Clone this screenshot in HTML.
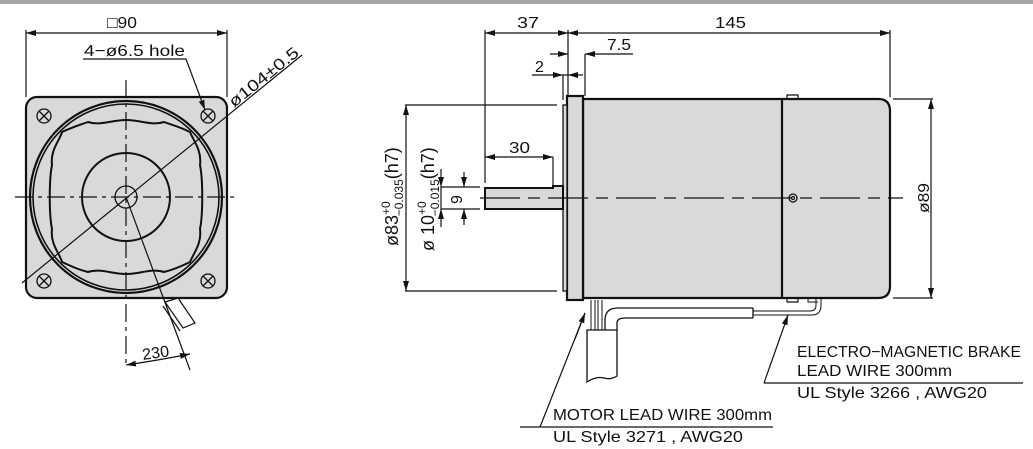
<!DOCTYPE html>
<html><head><meta charset="utf-8"><style>
html,body{margin:0;padding:0;background:#fff;width:1033px;height:449px;overflow:hidden}
svg{display:block}
text{font-family:"Liberation Sans",sans-serif;fill:#111}
</style></head><body>
<svg width="1033" height="449" viewBox="0 0 1033 449" xmlns="http://www.w3.org/2000/svg">
<defs>
<marker id="a" viewBox="0 0 10 6" refX="10" refY="3" markerWidth="10" markerHeight="6" orient="auto-start-reverse" markerUnits="userSpaceOnUse"><path d="M0,0L10,3L0,6z" fill="#111"/></marker>
</defs>
<rect x="0" y="0" width="1033" height="4" fill="#a6a6aa"/>
<g stroke="#111" fill="none" stroke-width="1.2">
<rect x="26" y="97" width="201" height="201" rx="11" fill="#d9d9d9" stroke-width="2.2"/>
<circle cx="126" cy="197" r="96" stroke-width="2.2"/>
<circle cx="126" cy="197" r="93" stroke-width="1.6"/>
<path d="M52,165 C50,150 60,140 62,132 C75,126 80,125 88,122 C100,126 112,120 126,120 C140,120 152,126 164,122 C172,125 178,126 190,132 C193,140 202,150 200,165 C203,180 203,214 200,229 C202,244 193,254 190,262 C178,268 172,270 164,272 C152,268 140,274 126,274 C112,274 100,268 88,272 C80,270 75,268 62,262 C60,254 50,244 52,229 C49,214 49,180 52,165Z" stroke-width="2"/>
<circle cx="126" cy="197" r="44" stroke-width="2"/>
<circle cx="126" cy="197" r="11" stroke-width="1.3"/>
<g stroke-width="1.3">
<circle cx="44" cy="116" r="7"/><path d="M39,111L49,121M49,111L39,121"/>
<circle cx="208" cy="116" r="7"/><path d="M203,111L213,121M213,111L203,121"/>
<circle cx="44" cy="281" r="7"/><path d="M39,276L49,286M49,276L39,286"/>
<circle cx="208" cy="281" r="7"/><path d="M203,276L213,286M213,276L203,286"/>
</g>
<path d="M126,80V365" stroke-dasharray="18,5,4,5"/>
<path d="M15,197H237" stroke-dasharray="18,5,4,5"/>
<path d="M26,30V97M227,30V97"/>
<path d="M26,33H227" marker-start="url(#a)" marker-end="url(#a)"/>
<path d="M83,59H186L205,110" marker-end="url(#a)"/>
<path d="M22,283L302,55" />
<path d="M126,197L190,370"/>
<path d="M165,302L178,298L195,323L183,328Z" fill="#fff"/>
<path d="M163,306L180,331" />
<path d="M126,365Q160,360 190,354" marker-start="url(#a)" marker-end="url(#a)"/>
<path d="M583,99H878Q890,99 890,111V286Q890,298 878,298H583Z" fill="#d9d9d9" stroke-width="2.2"/>
<path d="M782,99V298" stroke-width="2.2"/>
<path d="M787,99V95H798V99M787,298V302H798V298" stroke-width="1.2"/>
<rect x="567" y="96" width="16" height="204" fill="#d9d9d9" stroke-width="2.2"/>
<rect x="563" y="105" width="4" height="186" fill="#d9d9d9" stroke-width="1.3"/>
<path d="M485,188H553V186H563V209H485Z" fill="#d9d9d9" stroke-width="2"/>
<circle cx="793" cy="198" r="4" stroke-width="1.3"/><circle cx="793" cy="198" r="1.5"/>
<path d="M480,198H903" stroke-dasharray="40,8,12,8"/>
<path d="M485,30V183M568,30V96M890,30V97"/>
<path d="M485,33H568" marker-start="url(#a)" marker-end="url(#a)"/>
<path d="M568,33H890" marker-start="url(#a)" marker-end="url(#a)"/>
<path d="M585,54V96M563,75V100"/>
<path d="M550,54H568" marker-end="url(#a)"/><path d="M633,54H585" marker-end="url(#a)"/>
<path d="M532,75H563" marker-end="url(#a)"/><path d="M583,75H568" marker-end="url(#a)"/><path d="M563,75H568"/>
<path d="M405,105H557M405,291H557"/>
<path d="M406,105V291" marker-start="url(#a)" marker-end="url(#a)"/>
<path d="M485,157H553" marker-start="url(#a)" marker-end="url(#a)"/>
<path d="M553,157V186"/>
<path d="M441,187H480M441,209H480"/>
<path d="M441,169V187" marker-end="url(#a)"/><path d="M441,227V209" marker-end="url(#a)"/><path d="M441,187V209"/>
<path d="M464,172V187" marker-end="url(#a)"/><path d="M464,225V209" marker-end="url(#a)"/>
<path d="M893,99H933M893,298H933"/>
<path d="M931,99V298" marker-start="url(#a)" marker-end="url(#a)"/>
<path d="M591,300V330M595,300V330M598,300V330M602,300V330" stroke-width="1"/>
<path d="M587,330H617V376Q611,380 604,378Q596,376 587,382Z" fill="#fff" stroke-width="1.3"/>
<path d="M605,330V320Q605,308 618,308H753M617,330V323Q617,318 625,318H753M753,308V318" stroke-width="1.3"/>
<path d="M753,311H810Q816,311 816,305V299M753,315H812Q821,315 821,305V299" stroke-width="1"/>
<path d="M808,299V302H818" stroke-width="1"/>
<path d="M764,383H1023M764,383L788,315" marker-end="url(#a)"/>
<path d="M520,427H773M540,427L585,313" />
<path d="M575,339L585,313" marker-end="url(#a)"/>
</g>
<g font-size="16">
<text x="107" y="28" textLength="30" lengthAdjust="spacingAndGlyphs">□90</text>
<text x="84" y="56" textLength="101" lengthAdjust="spacingAndGlyphs">4−ø6.5 hole</text>
<text transform="translate(234,108) rotate(-39)" textLength="85" lengthAdjust="spacingAndGlyphs">ø104±0.5</text>
<text transform="translate(143,360) rotate(-8)" textLength="27" lengthAdjust="spacingAndGlyphs">230</text>
<text x="517" y="28" textLength="22" lengthAdjust="spacingAndGlyphs">37</text>
<text x="715" y="28" textLength="31" lengthAdjust="spacingAndGlyphs">145</text>
<text x="607" y="50" textLength="24" lengthAdjust="spacingAndGlyphs">7.5</text>
<text x="535" y="72">2</text>
<text x="509" y="153" textLength="21" lengthAdjust="spacingAndGlyphs">30</text>
<text transform="translate(462,204) rotate(-90)">9</text>
<text transform="translate(398,246) rotate(-90)" font-size="18">ø83<tspan font-size="12" dy="-8">+0</tspan><tspan font-size="12" dx="-15" dy="13">−0.035</tspan><tspan dy="-5">(h7)</tspan></text>
<text transform="translate(434,251) rotate(-90)" font-size="18">ø 10<tspan font-size="12" dy="-8">+0</tspan><tspan font-size="12" dx="-15" dy="13">−0.015</tspan><tspan dy="-5">(h7)</tspan></text>
<text transform="translate(929,213) rotate(-90)" textLength="30" lengthAdjust="spacingAndGlyphs">ø89</text>
<text x="797" y="357" textLength="224" lengthAdjust="spacingAndGlyphs">ELECTRO−MAGNETIC BRAKE</text>
<text x="797" y="376" textLength="155" lengthAdjust="spacingAndGlyphs">LEAD WIRE 300mm</text>
<text x="797" y="398" textLength="190" lengthAdjust="spacingAndGlyphs">UL Style 3266 , AWG20</text>
<text x="553" y="420" textLength="219" lengthAdjust="spacingAndGlyphs">MOTOR LEAD WIRE 300mm</text>
<text x="553" y="442" textLength="190" lengthAdjust="spacingAndGlyphs">UL Style 3271 , AWG20</text>
</g>
</svg>
</body></html>
